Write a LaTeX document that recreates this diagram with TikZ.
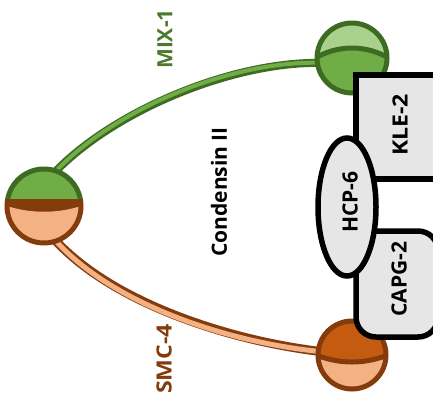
\documentclass[tikz,border=0pt]{standalone}
\usepackage{fontspec}
\usepackage{graphicx}
\setmainfont{Open Sans}
\usetikzlibrary{calc}
\definecolor{lgreen}{HTML}{A9D18E}
\definecolor{mgreen}{HTML}{70AD47}
\definecolor{dgreen}{HTML}{3D6B22}
\definecolor{txtgreen}{HTML}{4B7A2C}
\definecolor{dbrown}{HTML}{843C0C}
\definecolor{rust}{HTML}{C55A11}
\definecolor{lorange}{HTML}{F4B183}
\definecolor{boxgrey}{HTML}{E6E6E6}
\newcommand{\wide}[1]{\scalebox{1.1}[1]{#1}}
\begin{document}
\begin{tikzpicture}[x=1pt,y=-1pt,
  lbl/.style={font=\bfseries\fontsize{21}{21}\selectfont, rotate=90, inner sep=0pt},
  sub/.style={draw=black, line width=5.5pt, fill=boxgrey},
  rim/.style={line width=5pt}]
\useasboundingbox (0,0) rectangle (433,405);

% head centres
\coordinate (L) at (44,206);
\coordinate (T) at (352,58);
\coordinate (B) at (352,355);
\coordinate (Lt) at (55,172);
\coordinate (Lb) at (55,240);
\coordinate (Tl) at (325,63);
\coordinate (Bl) at (325,352);

% coiled-coil arms
\draw[dgreen, line width=8pt] (Lt) .. controls (115,110) and (235,60) .. (Tl);
\draw[mgreen, line width=4pt, yshift=1.5pt] (Lt) .. controls (115,110) and (235,60) .. (Tl);
\draw[dbrown, line width=9pt] (Lb) .. controls (115,305) and (235,342) .. (Bl);
\draw[lorange, line width=5pt, yshift=-2pt] (Lb) .. controls (115,305) and (235,342) .. (Bl);

% hinge (left head)
\begin{scope}
  \clip (L) circle (37pt);
  \fill[mgreen] (L) circle (37pt);
  \fill[dbrown] ($(L)+(-40,-7)$) rectangle ($(L)+(40,40)$);
  \fill[lorange] ($(L)+(-40,-1)$) .. controls ($(L)+(-15,8)$) and ($(L)+(15,8)$) .. ($(L)+(40,-1)$)
     -- ($(L)+(40,40)$) -- ($(L)+(-40,40)$) -- cycle;
\end{scope}
\begin{scope}
  \clip ($(L)+(-45,-45)$) rectangle ($(L)+(45,-7)$);
  \draw[dgreen, rim] (L) circle (37pt);
\end{scope}
\begin{scope}
  \clip ($(L)+(-45,-7)$) rectangle ($(L)+(45,45)$);
  \draw[dbrown, rim] (L) circle (37pt);
\end{scope}

% MIX-1 head
\begin{scope}
  \clip (T) circle (35pt);
  \fill[lgreen] (T) circle (35pt);
  \fill[mgreen] ($(T)+(-40,2)$) .. controls ($(T)+(-15,-14)$) and ($(T)+(15,-14)$) .. ($(T)+(40,2)$)
     -- ($(T)+(40,40)$) -- ($(T)+(-40,40)$) -- cycle;
  \draw[dgreen, rim] ($(T)+(-40,2)$) .. controls ($(T)+(-15,-14)$) and ($(T)+(15,-14)$) .. ($(T)+(40,2)$);
\end{scope}
\draw[dgreen, rim] (T) circle (35pt);

% SMC-4 head
\begin{scope}
  \clip (B) circle (34pt);
  \fill[rust] (B) circle (34pt);
  \fill[lorange] ($(B)+(-40,-2)$) .. controls ($(B)+(-15,10)$) and ($(B)+(15,10)$) .. ($(B)+(40,-2)$)
     -- ($(B)+(40,40)$) -- ($(B)+(-40,40)$) -- cycle;
  \draw[dbrown, rim] ($(B)+(-40,-2)$) .. controls ($(B)+(-15,10)$) and ($(B)+(15,10)$) .. ($(B)+(40,-2)$);
\end{scope}
\draw[dbrown, rim] (B) circle (34pt);

% non-SMC subunits
\draw[sub] (356,75) rectangle (445,179);
\draw[sub, rounded corners=20pt] (356,231) rectangle (438,337);
\draw[sub] (347,207) ellipse [x radius=29pt, y radius=69pt];

\node[lbl] (kle) at (400,125) {\wide{KLE-2}};
\node[lbl] (capg) at (399,279) {CAPG-2};
\node[lbl] (hcp) at (350,202) {HCP-6};
\node[lbl] (cond) at (219,192) {Condensin II};
\node[lbl, text=txtgreen] (mix) at (165,39) {MIX-1};
\node[lbl, text=dbrown] (smc) at (164,359) {\wide{SMC-4}};
\end{tikzpicture}
\end{document}
